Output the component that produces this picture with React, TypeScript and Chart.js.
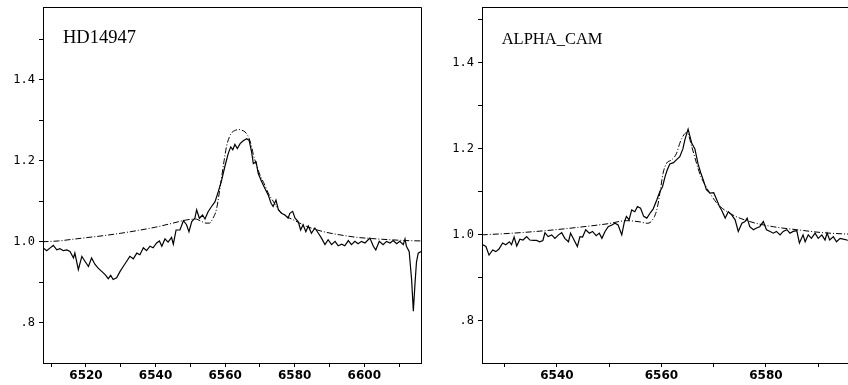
import React, { useEffect, useRef } from 'react';
import { Chart, registerables } from 'chart.js';

Chart.register(...registerables);

// ---- HD14947 (left panel) ----
const hdTitle = 'HD14947';
const hdObsWave = [
  6507.7, 6508.7, 6509.7, 6510.6, 6511.6, 6512.5, 6513.5, 6514.5, 6515.4, 6516.4,
  6516.8, 6517.8, 6518.8, 6519.7, 6520.7, 6521.6, 6522.6, 6523.5, 6524.5, 6525.5,
  6526.4, 6527.1, 6527.8, 6528.8, 6529.8, 6530.7, 6531.7, 6532.6, 6533.6, 6534.6,
  6535.5, 6536.5, 6537.4, 6538.4, 6539.3, 6540.3, 6541.1, 6541.8, 6542.7, 6543.6,
  6544.6, 6545.1, 6545.9, 6547.0, 6548.0, 6548.9, 6549.6, 6550.4, 6551.3, 6551.8,
  6552.6, 6553.5, 6554.2, 6555.1, 6556.1, 6557.1, 6558.0, 6559.0, 6559.9, 6560.9,
  6561.6, 6562.2, 6562.8, 6563.5, 6564.3, 6565.2, 6566.2, 6566.9, 6567.6, 6568.1,
  6568.9, 6569.5, 6570.5, 6571.4, 6572.4, 6573.2, 6573.8, 6574.6, 6575.3, 6576.2,
  6577.2, 6578.1, 6578.6, 6579.4, 6580.1, 6581.0, 6581.7, 6582.4, 6583.2, 6583.9,
  6584.8, 6585.8, 6586.8, 6587.7, 6588.7, 6589.6, 6590.6, 6591.6, 6592.5, 6593.5,
  6594.4, 6595.4, 6596.3, 6597.3, 6598.2, 6599.2, 6600.2, 6601.6, 6602.6, 6603.3,
  6604.3, 6605.4, 6606.4, 6607.4, 6608.3, 6609.3, 6610.2, 6611.2, 6611.7, 6612.1,
  6612.9, 6613.6, 6614.1, 6614.6, 6615.0, 6615.5, 6616.3,
];
const hdObsFlux = [
  0.985, 0.978, 0.985, 0.991, 0.980, 0.983, 0.978, 0.980, 0.976, 0.960,
  0.972, 0.931, 0.964, 0.952, 0.939, 0.960, 0.944, 0.935, 0.927, 0.919,
  0.909, 0.917, 0.907, 0.911, 0.927, 0.939, 0.952, 0.964, 0.958, 0.972,
  0.968, 0.985, 0.978, 0.989, 0.985, 0.997, 1.002, 0.989, 1.007, 0.999,
  1.011, 0.994, 1.029, 1.029, 1.052, 1.042, 1.025, 1.050, 1.058, 1.079,
  1.058, 1.066, 1.056, 1.074, 1.087, 1.099, 1.123, 1.152, 1.185, 1.218,
  1.234, 1.227, 1.240, 1.230, 1.242, 1.249, 1.254, 1.250, 1.222, 1.193,
  1.197, 1.169, 1.148, 1.132, 1.115, 1.095, 1.087, 1.103, 1.079, 1.070,
  1.066, 1.058, 1.070, 1.075, 1.058, 1.050, 1.029, 1.042, 1.025, 1.039,
  1.021, 1.034, 1.021, 1.009, 0.993, 1.005, 0.993, 1.001, 0.990, 0.994,
  0.990, 1.003, 0.993, 1.001, 0.995, 1.001, 0.997, 1.009, 0.989, 0.980,
  1.001, 0.993, 1.001, 0.997, 1.003, 0.995, 1.001, 0.993, 1.007, 0.989,
  0.976, 0.907, 0.829, 0.900, 0.950, 0.972, 0.976,
];
const hdFitWave = [
  6507.5, 6512, 6516, 6520, 6525, 6530, 6535, 6540, 6545, 6549,
  6551.5, 6553, 6554.5, 6555.5, 6556.5, 6557.5, 6558.3, 6559.0, 6559.7, 6560.4,
  6561.2, 6562.0, 6563.0, 6563.8, 6564.8, 6565.7, 6566.5, 6567.1, 6567.6, 6568.1,
  6569.0, 6570.0, 6571.4, 6572.5, 6573.8, 6575.7, 6577.5, 6579.6, 6583.4, 6588.2,
  6593.0, 6597.8, 6602, 6607.4, 6612, 6616.5,
];
const hdFitFlux = [
  1.000, 1.002, 1.006, 1.010, 1.015, 1.021, 1.028, 1.036, 1.046, 1.054,
  1.056, 1.051, 1.046, 1.046, 1.058, 1.080, 1.120, 1.160, 1.200, 1.235,
  1.258, 1.270, 1.275, 1.277, 1.275, 1.271, 1.262, 1.250, 1.235, 1.215,
  1.190, 1.165, 1.140, 1.118, 1.100, 1.075, 1.063, 1.054, 1.038, 1.025,
  1.017, 1.011, 1.008, 1.005, 1.003, 1.002,
];

// ---- ALPHA_CAM (right panel) ----
const acTitle = 'ALPHA_CAM';
const acObsWave = [
  6525.8, 6526.4, 6527.0, 6527.7, 6528.3, 6528.9, 6529.6, 6530.2, 6530.9, 6531.3,
  6531.8, 6532.3, 6532.9, 6533.5, 6534.2, 6534.8, 6535.5, 6536.1, 6536.7, 6537.3,
  6537.7, 6538.3, 6539.0, 6539.6, 6540.3, 6540.9, 6541.5, 6542.2, 6542.6, 6543.1,
  6543.9, 6544.4, 6544.9, 6545.5, 6546.2, 6546.8, 6547.5, 6548.1, 6548.6, 6549.2,
  6549.8, 6550.5, 6551.1, 6551.7, 6552.4, 6552.9, 6553.3, 6553.8, 6554.3, 6554.9,
  6555.4, 6556.0, 6556.6, 6557.2, 6557.9, 6558.4, 6559.1, 6559.7, 6560.2, 6560.7,
  6561.1, 6561.6, 6562.3, 6562.9, 6563.5, 6564.1, 6564.5, 6565.1, 6565.8, 6566.4,
  6567.0, 6567.5, 6568.0, 6568.6, 6569.3, 6570.0, 6570.6, 6571.1, 6571.5, 6572.2,
  6572.8, 6573.4, 6574.1, 6574.7, 6575.4, 6576.0, 6576.4, 6576.9, 6577.6, 6578.2,
  6578.8, 6579.5, 6580.1, 6580.8, 6581.4, 6582.0, 6582.7, 6583.3, 6584.0, 6584.6,
  6585.2, 6585.9, 6586.4, 6587.1, 6587.5, 6588.1, 6588.7, 6589.4, 6590.0, 6590.7,
  6591.3, 6591.7, 6592.2, 6592.9, 6593.5, 6594.2, 6594.8, 6595.5, 6596.3,
];
const acObsFlux = [
  0.977, 0.973, 0.953, 0.965, 0.961, 0.967, 0.981, 0.977, 0.984, 0.977,
  0.995, 0.974, 0.990, 0.988, 0.996, 0.988, 0.987, 0.987, 0.984, 0.987,
  1.005, 0.996, 1.000, 0.992, 1.000, 1.005, 0.992, 0.984, 1.004, 0.992,
  0.973, 0.996, 0.995, 1.012, 1.004, 1.008, 0.998, 1.004, 0.992, 1.008,
  1.019, 1.023, 1.027, 1.023, 1.000, 1.030, 1.043, 1.035, 1.058, 1.054,
  1.066, 1.062, 1.043, 1.039, 1.052, 1.060, 1.081, 1.101, 1.112, 1.136,
  1.151, 1.165, 1.168, 1.175, 1.182, 1.200, 1.222, 1.246, 1.213, 1.200,
  1.165, 1.145, 1.128, 1.105, 1.097, 1.098, 1.081, 1.066, 1.058, 1.039,
  1.054, 1.047, 1.035, 1.008, 1.027, 1.031, 1.039, 1.019, 1.012, 1.016,
  1.019, 1.031, 1.012, 1.008, 1.004, 1.008, 1.000, 1.008, 1.012, 1.004,
  1.008, 1.010, 0.981, 1.000, 0.984, 1.000, 0.992, 1.004, 0.992, 1.000,
  0.988, 1.004, 0.988, 0.996, 0.984, 0.992, 0.990, 0.988, 0.986,
];
const acFitWave = [
  6525.6, 6531.6, 6538.0, 6544.4, 6549.8, 6553.3, 6556.0, 6557.2, 6558.1, 6559.1,
  6559.7, 6560.3, 6561.0, 6561.9, 6562.9, 6563.5, 6564.3, 6564.9, 6565.8, 6566.7,
  6567.4, 6568.0, 6570.6, 6573.1, 6576.9, 6581.4, 6585.9, 6591.0, 6595.5, 6598.0,
];
const acFitFlux = [
  1.000, 1.004, 1.010, 1.018, 1.026, 1.033, 1.030, 1.027, 1.032, 1.058,
  1.097, 1.143, 1.167, 1.174, 1.190, 1.213, 1.233, 1.238, 1.205, 1.167,
  1.140, 1.124, 1.074, 1.050, 1.031, 1.019, 1.012, 1.005, 1.002, 1.001,
];

// axis tick settings
const waveStep = 10;
const waveLabelStep = 20;
const fluxStep = 0.1;

const framePlugin = {
  id: 'frameAndTitle',
  afterDraw(chart: any) {
    const { ctx, chartArea } = chart;
    const o = chart.options.plugins.frameAndTitle || {};
    ctx.save();
    ctx.strokeStyle = '#000';
    ctx.lineWidth = 1;
    ctx.beginPath();
    ctx.moveTo(Math.round(chartArea.left) + 0.5, Math.round(chartArea.top) + 0.5);
    ctx.lineTo(Math.round(chartArea.right) + 0.5, Math.round(chartArea.top) + 0.5);
    ctx.lineTo(Math.round(chartArea.right) + 0.5, Math.round(chartArea.bottom) + 0.5);
    ctx.stroke();
    if (o.text) {
      ctx.fillStyle = '#000';
      ctx.font = `${o.size}px "Liberation Serif", serif`;
      ctx.textBaseline = 'alphabetic';
      ctx.textAlign = 'left';
      ctx.fillText(o.text, chartArea.left + o.dx, chartArea.top + o.dy);
    }
    ctx.restore();
  },
};

type PanelProps = {
  title: string;
  titleSize: number;
  titleDx: number;
  titleDy: number;
  obsWave: number[];
  obsFlux: number[];
  fitWave: number[];
  fitFlux: number[];
  xMin: number;
  xMax: number;
  yMin: number;
  yMax: number;
  left: number;
  width: number;
  axisWidth: number;
  padRight: number;
};

function Panel(p: PanelProps) {
  const ref = useRef<HTMLCanvasElement>(null);
  useEffect(() => {
    if (!ref.current) return;
    const chart = new Chart(ref.current, {
      type: 'line',
      data: {
        datasets: [
          {
            data: p.obsWave.map((x, i) => ({ x, y: p.obsFlux[i] })),
            borderColor: '#000',
            borderWidth: 1.2,
            pointRadius: 0,
            tension: 0,
            fill: false,
          },
          {
            data: p.fitWave.map((x, i) => ({ x, y: p.fitFlux[i] })),
            borderColor: '#000',
            borderWidth: 1,
            borderDash: [6, 2, 1, 2],
            pointRadius: 0,
            cubicInterpolationMode: 'monotone',
            fill: false,
          },
        ],
      },
      options: {
        animation: false,
        responsive: false,
        maintainAspectRatio: false,
        events: [],
        layout: { padding: { top: 7, right: p.padRight, left: 0, bottom: 0 } },
        plugins: {
          legend: { display: false },
          tooltip: { enabled: false },
          frameAndTitle: { text: p.title, size: p.titleSize, dx: p.titleDx, dy: p.titleDy },
        } as any,
        scales: {
          x: {
            type: 'linear',
            min: p.xMin,
            max: p.xMax,
            afterFit: (s: any) => {
              s.height = 22;
              s.paddingLeft = 0;
              s.paddingRight = 0;
            },
            grid: { display: true, drawOnChartArea: false, drawTicks: true, tickLength: 4, color: '#000' },
            border: { display: true, color: '#000', width: 1 },
            ticks: {
              stepSize: waveStep,
              includeBounds: false,
              autoSkip: false,
              maxRotation: 0,
              minRotation: 0,
              padding: 2,
              color: '#000',
              font: { family: '"DejaVu Sans", sans-serif', size: 12, weight: 'bold' },
              callback: (v: any) => {
                const r = Math.round(Number(v));
                return r % waveLabelStep === 0 ? String(r) : '';
              },
            },
          },
          y: {
            type: 'linear',
            min: p.yMin,
            max: p.yMax,
            afterFit: (s: any) => {
              s.width = p.axisWidth;
              s.paddingTop = 0;
              s.paddingBottom = 0;
            },
            grid: { display: true, drawOnChartArea: false, drawTicks: true, tickLength: 4, color: '#000' },
            border: { display: true, color: '#000', width: 1 },
            ticks: {
              stepSize: fluxStep,
              includeBounds: false,
              autoSkip: false,
              padding: 4,
              color: '#000',
              font: { family: '"DejaVu Sans Mono", monospace', size: 12 },
              callback: (v: any) => {
                const t = Math.round(Number(v) * 10);
                if (t % 2 !== 0) return '';
                return t >= 10 ? (t / 10).toFixed(1) : '.' + t;
              },
            },
          },
        },
      },
      plugins: [framePlugin],
    } as any);
    return () => chart.destroy();
  }, []);
  return (
    <canvas
      ref={ref}
      width={p.width}
      height={385}
      style={{ position: 'absolute', left: p.left, top: 0, width: p.width, height: 385 }}
    />
  );
}

export default function App() {
  return (
    <div
      style={{
        position: 'absolute',
        left: 0,
        top: 0,
        width: 848,
        height: 385,
        overflow: 'hidden',
        background: '#fff',
      }}
    >
      <Panel
        title={hdTitle}
        titleSize={18.5}
        titleDx={20}
        titleDy={35.7}
        obsWave={hdObsWave}
        obsFlux={hdObsFlux}
        fitWave={hdFitWave}
        fitFlux={hdFitFlux}
        xMin={6507.64}
        xMax={6616.3}
        yMin={0.701}
        yMax={1.579}
        left={0}
        width={430}
        axisWidth={43}
        padRight={9}
      />
      <Panel
        title={acTitle}
        titleSize={16.5}
        titleDx={19.7}
        titleDy={36.5}
        obsWave={acObsWave}
        obsFlux={acObsFlux}
        fitWave={acFitWave}
        fitFlux={acFitFlux}
        xMin={6525.65}
        xMax={6598.0}
        yMin={0.702}
        yMax={1.53}
        left={430}
        width={450}
        axisWidth={52}
        padRight={20}
      />
    </div>
  );
}
